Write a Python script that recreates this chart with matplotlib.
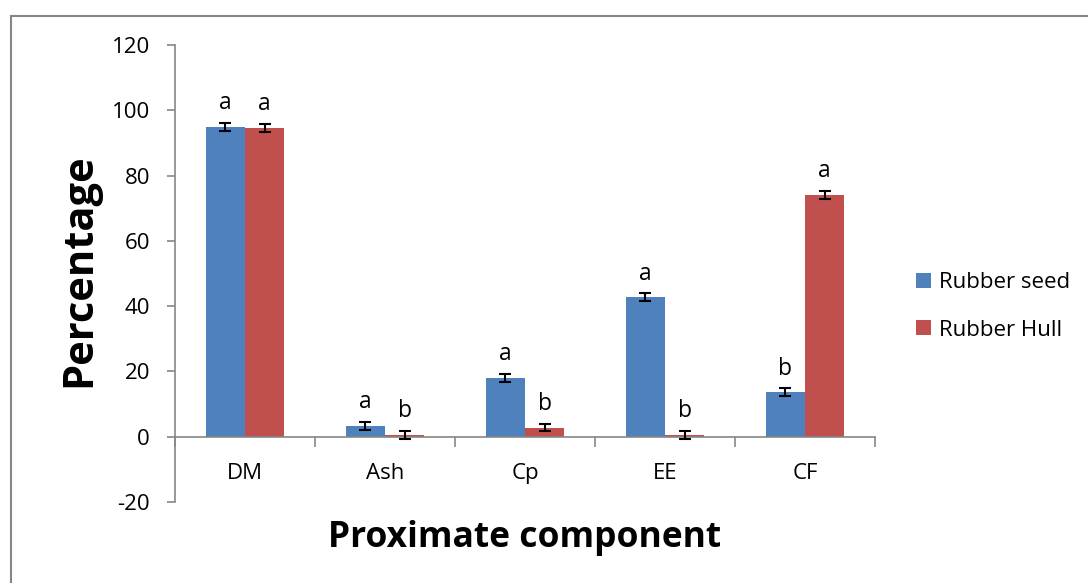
import matplotlib
matplotlib.use('Agg')
import matplotlib.pyplot as plt
import matplotlib.patches as mpatches
import numpy as np

plt.rcParams['font.family'] = ['Open Sans', 'DejaVu Sans']

categories = ['DM', 'Ash', 'Cp', 'EE', 'CF']
seed = [94.8, 3.2, 17.9, 42.7, 13.6]
hull = [94.5, 0.5, 2.8, 0.6, 74.0]
seed_err = [1.2, 1.2, 1.2, 1.2, 1.2]
hull_err = [1.2, 1.2, 1.2, 1.2, 1.2]
seed_letters = ['a', 'a', 'a', 'a', 'b']
hull_letters = ['a', 'b', 'b', 'b', 'a']
y_ticks = [-20, 0, 20, 40, 60, 80, 100, 120]

blue = '#4F81BD'
red = '#C0504D'
axis_grey = '#868686'

fig = plt.figure(figsize=(10.88, 5.83), dpi=100)
fig.patch.set_facecolor('white')
# outer chart frame (clipped at right and bottom like the reference)
fig.add_artist(mpatches.Rectangle((11 / 1088, -0.1), 1.2, 1 - 16 / 583 + 0.1,
                                  transform=fig.transFigure, fill=False,
                                  edgecolor=axis_grey, linewidth=1.5))

ax = fig.add_axes([175 / 1088, 1 - 502 / 583, 700 / 1088, 457 / 583])
x = np.arange(len(categories))
w = 0.279
ax.bar(x - w / 2, seed, w, color=blue, label='Rubber seed', zorder=2)
ax.bar(x + w / 2, hull, w, color=red, label='Rubber Hull', zorder=2)
ax.errorbar(x - w / 2, seed, yerr=seed_err, fmt='none', ecolor='black',
            elinewidth=1.5, capsize=4.5, capthick=1.5, zorder=3)
ax.errorbar(x + w / 2, hull, yerr=hull_err, fmt='none', ecolor='black',
            elinewidth=1.5, capsize=4.5, capthick=1.5, zorder=3)

for xi, v, e, t in zip(x - w / 2, seed, seed_err, seed_letters):
    ax.annotate(t, (xi, v + e), xytext=(0, 10), textcoords='offset points',
                ha='center', va='baseline', fontsize=16.5, color='black')
for xi, v, e, t in zip(x + w / 2, hull, hull_err, hull_letters):
    ax.annotate(t, (xi, v + e), xytext=(0, 10), textcoords='offset points',
                ha='center', va='baseline', fontsize=16.5, color='black')

ax.set_xlim(-0.5, len(categories) - 0.5)
ax.set_ylim(-20, 120)
ax.set_yticks(y_ticks)
ax.set_yticklabels([str(v) for v in y_ticks])

ax.set_xticks(np.arange(-0.5, len(categories), 1.0))
ax.set_xticklabels([])
ax.set_xticks(x, minor=True)
ax.set_xticklabels(categories, minor=True)
ax.tick_params(axis='x', which='major', direction='out', length=7,
               width=1.2, color=axis_grey)
ax.tick_params(axis='x', which='minor', length=0, pad=19, labelsize=16)
ax.tick_params(axis='y', direction='out', length=6, width=1.2,
               color=axis_grey, pad=12, labelsize=16)

ax.spines['top'].set_visible(False)
ax.spines['right'].set_visible(False)
ax.spines['bottom'].set_position(('data', 0))
ax.spines['bottom'].set_color(axis_grey)
ax.spines['left'].set_color(axis_grey)
ax.spines['bottom'].set_linewidth(1.2)
ax.spines['left'].set_linewidth(1.2)

fig.text(80 / 1088, 1 - 270 / 583, 'Percentage', rotation=90, ha='center',
         va='center', fontsize=30, fontweight='bold')
fig.text(525 / 1088, 1 - 538 / 583, 'Proximate component', ha='center',
         va='center', fontsize=25.5, fontweight='bold')

ax.legend(loc='upper left', bbox_to_anchor=(916 / 1088, 1 - 272 / 583),
          bbox_transform=fig.transFigure, frameon=False, fontsize=16,
          handlelength=0.67, handleheight=0.67, handletextpad=0.36,
          labelspacing=1.2, borderpad=0, borderaxespad=0)

fig.savefig('out.png', dpi=100, facecolor='white')
